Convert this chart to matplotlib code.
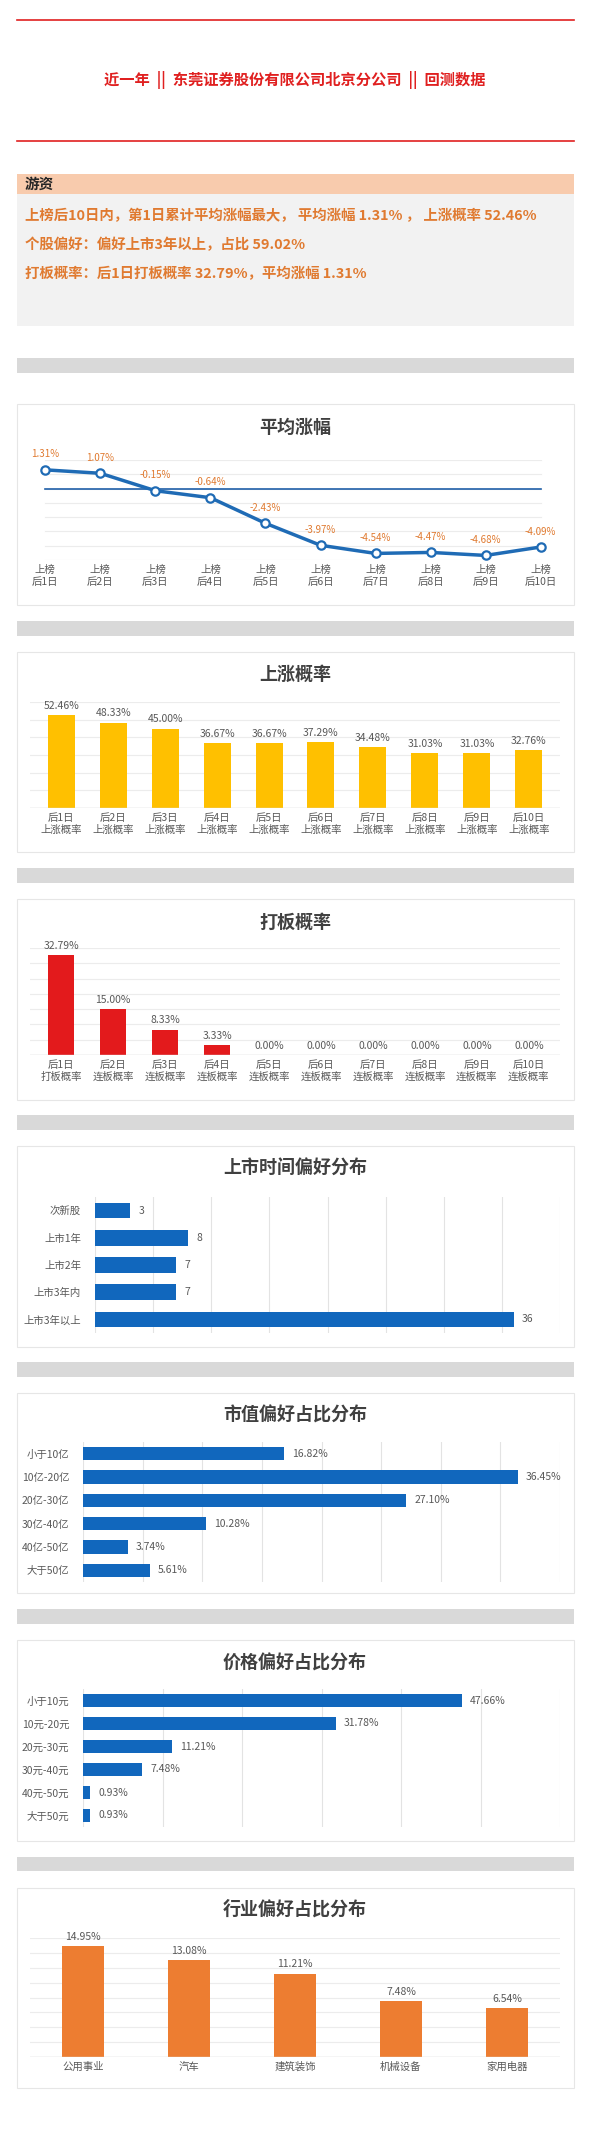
import matplotlib as mpl
mpl.use('Agg')
import matplotlib.pyplot as plt
from matplotlib.patches import Rectangle

plt.rcParams['font.family'] = ['Noto Sans CJK SC', 'DejaVu Sans']

W, H = 591, 2135

days = ['后%d日' % i for i in range(1, 11)]
avg_gain = [1.31, 1.07, -0.15, -0.64, -2.43, -3.97, -4.54, -4.47, -4.68, -4.09]
up_prob = [52.46, 48.33, 45.00, 36.67, 36.67, 37.29, 34.48, 31.03, 31.03, 32.76]
limit_labels = ['后1日\n打板概率'] + ['后%d日\n连板概率' % i for i in range(2, 11)]
limit_prob = [32.79, 15.00, 8.33, 3.33, 0, 0, 0, 0, 0, 0]
list_cats = ['次新股', '上市1年', '上市2年', '上市3年内', '上市3年以上']
list_vals = [3, 8, 7, 7, 36]
cap_cats = ['小于10亿', '10亿-20亿', '20亿-30亿', '30亿-40亿', '40亿-50亿', '大于50亿']
cap_vals = [16.82, 36.45, 27.10, 10.28, 3.74, 5.61]
price_cats = ['小于10元', '10元-20元', '20元-30元', '30元-40元', '40元-50元', '大于50元']
price_vals = [47.66, 31.78, 11.21, 7.48, 0.93, 0.93]
ind_cats = ['公用事业', '汽车', '建筑装饰', '机械设备', '家用电器']
ind_vals = [14.95, 13.08, 11.21, 7.48, 6.54]

GRID = '#d9d9d9'
LBL = '#595959'
BLUE = '#1167bd'

fig = plt.figure(figsize=(W / 100, H / 100), dpi=100)


def rect(x0, y0, x1, y1):
  return [x0 / W, 1 - y1 / H, (x1 - x0) / W, (y1 - y0) / H]


def box(x0, y0, x1, y1, fc, ec='none'):
  fig.patches.append(Rectangle((x0 / W, 1 - y1 / H), (x1 - x0) / W, (y1 - y0) / H,
                               transform=fig.transFigure, fc=fc, ec=ec, lw=0.8, zorder=-5))


def ftext(x, y, s, **kw):
  fig.text(x / W, 1 - y / H, s, **kw)


def panel(y0, y1, title, ty):
  box(17, y0, 574, y1, 'white', '#e6e6e6')
  ftext(295, ty, title, ha='center', va='center', fontsize=13, fontweight='bold', color='#404040')


def gray_bar(y0, y1):
  box(17, y0, 574, y1, '#d9d9d9')


def clean(ax):
  for s in ax.spines.values():
    s.set_visible(False)
  ax.set_facecolor('none')
  ax.tick_params(length=0, colors=LBL, labelsize=7.5)


# header
fig.add_artist(plt.Line2D([17 / W, 574 / W], [1 - 20 / H] * 2, color='#e02020', lw=1.2))
fig.add_artist(plt.Line2D([17 / W, 574 / W], [1 - 141 / H] * 2, color='#e02020', lw=1.2))
ftext(295, 80, '近一年  ||  东莞证券股份有限公司北京分公司  ||  回测数据', ha='center', va='center',
      fontsize=11, fontweight='bold', color='#e02020')
box(17, 182, 574, 326, '#f2f2f2')
box(17, 174, 574, 194, '#f8cbad')
ftext(25, 184, '游资', va='center', fontsize=10.5, fontweight='bold', color='#262626')
orange = '#e07a30'
for i, s in enumerate(['上榜后10日内，第1日累计平均涨幅最大， 平均涨幅 1.31% ， 上涨概率 52.46%',
                       '个股偏好：偏好上市3年以上，占比 59.02%',
                       '打板概率：后1日打板概率 32.79%，平均涨幅 1.31%']):
  ftext(25, 216 + i * 29, s, va='center', fontsize=10.4, fontweight='bold', color=orange)

# chart 1
gray_bar(358, 373)
panel(404, 605, '平均涨幅', 427)
ax = fig.add_axes(rect(26, 460, 560, 560))
clean(ax)
x = range(len(avg_gain))
ax.set_ylim(-5, 2)
ax.set_xlim(-0.35, 9.35)
for g in range(-5, 3):
  ax.axhline(g, color='#ececec', lw=0.8, xmin=0.036, xmax=0.964)
ax.axhline(0, color='#1f5fa8', lw=1.2, xmin=0.036, xmax=0.964)
ax.plot(x, avg_gain, color='#1f6bb5', lw=2.5, marker='o', ms=6, mfc='white', mec='#1f6bb5', mew=1.6)
for i, v in enumerate(avg_gain):
  ax.annotate('%.2f%%' % v, (i, v), xytext=(0, 9), textcoords='offset points', ha='center',
              fontsize=7, color=orange)
ax.set_yticks([])
ax.set_xticks(list(x))
ax.set_xticklabels(['上榜\n' + d for d in days], fontsize=7.5, linespacing=1.2)

# chart 2
gray_bar(621, 636)
panel(652, 852, '上涨概率', 674)
ax = fig.add_axes(rect(30, 702, 560, 808))
clean(ax)
ax.set_ylim(0, 60)
ax.set_xlim(-0.6, 9.6)
ax.set_yticks(range(0, 61, 10))
ax.yaxis.grid(True, color='#ececec', lw=0.8)
ax.set_axisbelow(True)
ax.set_yticklabels([])
ax.axhline(0, color=GRID, lw=1)
bars = ax.bar(range(10), up_prob, width=0.52, color='#ffc000')
ax.bar_label(bars, ['%.2f%%' % v for v in up_prob], padding=3, fontsize=7.5, color=LBL)
ax.set_xticks(range(10))
ax.set_xticklabels([d + '\n上涨概率' for d in days], fontsize=7.5, linespacing=1.2)

# chart 3
gray_bar(868, 883)
panel(899, 1100, '打板概率', 922)
ax = fig.add_axes(rect(30, 948, 560, 1055))
clean(ax)
ax.set_ylim(0, 35)
ax.set_xlim(-0.6, 9.6)
ax.set_yticks(range(0, 36, 5))
ax.yaxis.grid(True, color='#ececec', lw=0.8)
ax.set_axisbelow(True)
ax.set_yticklabels([])
ax.axhline(0, color=GRID, lw=1)
bars = ax.bar(range(10), limit_prob, width=0.5, color='#e31a1c')
ax.bar_label(bars, ['%.2f%%' % v for v in limit_prob], padding=3, fontsize=7.5, color=LBL)
ax.set_xticks(range(10))
ax.set_xticklabels(limit_labels, fontsize=7.5, linespacing=1.2)


def hbar(y0, y1, title, ty, ax_rect, cats, vals, xmax, step, fmt, h):
  panel(y0, y1, title, ty)
  ax = fig.add_axes(rect(*ax_rect))
  clean(ax)
  ax.set_xlim(0, xmax)
  ax.set_xticks(range(0, xmax + 1, step))
  ax.set_xticklabels([])
  ax.xaxis.grid(True, color='#e3e3e3', lw=0.8)
  ax.set_axisbelow(True)
  yy = range(len(cats))
  ax.set_ylim(len(cats) - 0.5, -0.5)
  bars = ax.barh(yy, vals, height=h, color=BLUE)
  ax.bar_label(bars, [fmt % v for v in vals], padding=6, fontsize=7.5, color=LBL)
  ax.set_yticks(list(yy))
  ax.set_yticklabels(cats, fontsize=7.5)
  ax.tick_params(axis='y', pad=10)


gray_bar(1115, 1130)
hbar(1146, 1347, '上市时间偏好分布', 1168, (95, 1197, 560, 1333), list_cats, list_vals, 40, 5, '%d', 0.58)
gray_bar(1362, 1377)
hbar(1393, 1593, '市值偏好占比分布', 1415, (83, 1442, 560, 1582), cap_cats, cap_vals, 40, 5, '%.2f%%', 0.58)
gray_bar(1609, 1624)
hbar(1640, 1841, '价格偏好占比分布', 1663, (83, 1689, 560, 1827), price_cats, price_vals, 60, 10, '%.2f%%', 0.58)

# chart 7
gray_bar(1857, 1871)
panel(1888, 2088, '行业偏好占比分布', 1909)
ax = fig.add_axes(rect(30, 1938, 560, 2057))
clean(ax)
ax.set_ylim(0, 16)
ax.set_xlim(-0.5, 4.5)
ax.set_yticks(range(0, 17, 2))
ax.yaxis.grid(True, color='#ececec', lw=0.8)
ax.set_axisbelow(True)
ax.set_yticklabels([])
ax.axhline(0, color=GRID, lw=1)
bars = ax.bar(range(5), ind_vals, width=0.4, color='#ed7d31')
ax.bar_label(bars, ['%.2f%%' % v for v in ind_vals], padding=3, fontsize=7.5, color=LBL)
ax.set_xticks(range(5))
ax.set_xticklabels(ind_cats, fontsize=7.5)

fig.savefig('out.png', dpi=100)
